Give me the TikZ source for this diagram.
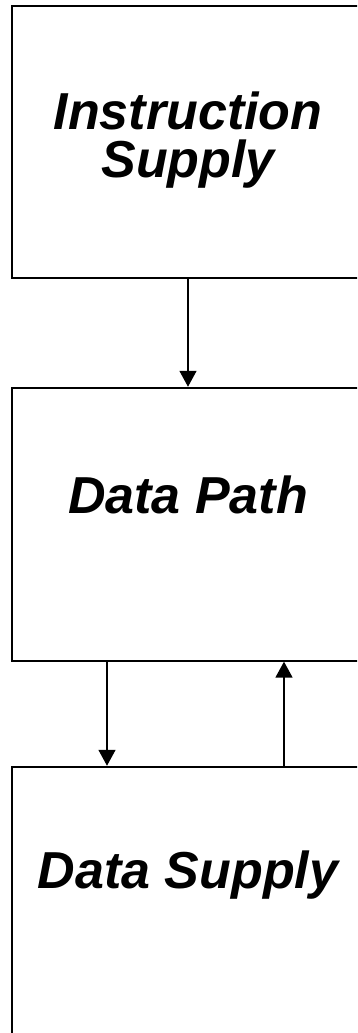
\documentclass[tikz,border=0pt]{standalone}
\usepackage{fontspec}
\setmainfont{Liberation Sans}
\usetikzlibrary{arrows.meta}
\tikzset{
  unitbox/.style={draw, line width=1.9pt, minimum width=352pt, minimum height=273pt, inner sep=0pt},
  title/.style={font=\fontsize{52}{48}\selectfont\bfseries\itshape, align=center, inner sep=0pt, anchor=base},
  flow/.style={line width=1.6pt, -{Triangle[length=16pt, width=17pt]}}
}
\begin{document}
\begin{tikzpicture}[x=1pt, y=-1pt]
  \useasboundingbox (0,0) rectangle (357,1033);
  \clip (0,0) rectangle (357,1033);
  % the three stages
  \node[unitbox, minimum height=271.7pt] (isup) at (188,142.15) {};
  \node[unitbox] (dpath) at (188,524.2) {};
  \node[unitbox] (dsup) at (188,903.2) {};
  % stage names (base anchor sits on the last line)
  \node[title] (isupt) at (188,177) {Instruction\\Supply};
  \node[title] (dpatht) at (188,513) {Data Path};
  \node[title] (dsupt) at (188,888) {Data Supply};
  % arrow columns
  \coordinate (cmid) at (188,0);
  \coordinate (cdown) at (107,0);
  \coordinate (cup) at (284,0);
  % connectors
  \draw[flow] (cmid |- isup.south) -- (cmid |- dpath.north);
  \draw[flow] (cdown |- dpath.south) -- (cdown |- dsup.north);
  \draw[flow] (cup |- dsup.north) -- (cup |- dpath.south);
\end{tikzpicture}
\end{document}
